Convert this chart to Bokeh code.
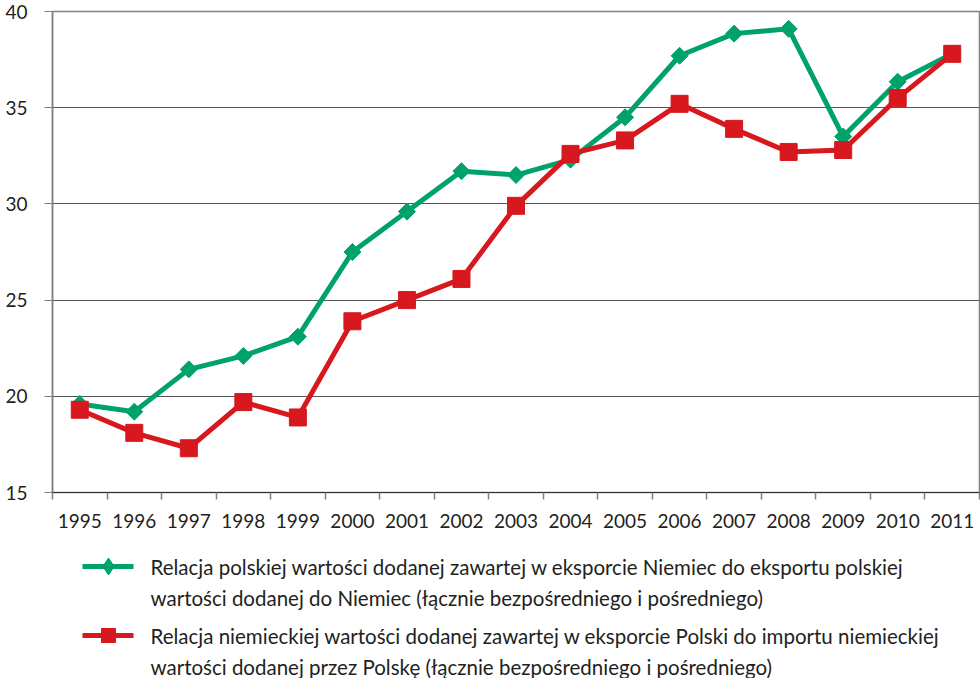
from bokeh.plotting import figure
from bokeh.models import Range1d, FixedTicker, BasicTickFormatter
from bokeh.layouts import column
from bokeh.embed import file_html
from bokeh.resources import INLINE
from bokeh.core.properties import value
import math

years = list(range(1995, 2012))
green_vals = [19.6, 19.2, 21.4, 22.1, 23.1, 27.5, 29.6, 31.7, 31.5, 32.3, 34.5, 37.7, 38.85, 39.1, 33.5, 36.35, 37.8]
red_vals = [19.3, 18.1, 17.3, 19.7, 18.9, 23.9, 25.0, 26.1, 29.9, 32.6, 33.3, 35.2, 33.9, 32.7, 32.8, 35.5, 37.8]
y_ticks = [15, 20, 25, 30, 35, 40]
legend_lines = [
    ["Relacja polskiej wartości dodanej zawartej w eksporcie Niemiec do eksportu polskiej",
     "wartości dodanej do Niemiec (łącznie bezpośredniego i pośredniego)"],
    ["Relacja niemieckiej wartości dodanej zawartej w eksporcie Polski do importu niemieckiej",
     "wartości dodanej przez Polskę (łącznie bezpośredniego i pośredniego)"],
]

GREEN = "#00a26b"
RED = "#d7181f"
TEXT = "#231f20"
FONT = "Lato"

MAIN_H = 537
LEG_H = 141

p = figure(width=980, height=MAIN_H, output_backend="svg", toolbar_location=None,
           x_range=Range1d(years[0] - 0.5, years[-1] + 0.5), y_range=Range1d(15, 40),
           min_border_left=52, min_border_right=1, min_border_top=11, min_border_bottom=45)
p.background_fill_color = "white"
p.border_fill_color = "white"
p.outline_line_color = "#808080"
p.outline_line_width = 1.5

p.xgrid.grid_line_color = None
p.ygrid.grid_line_color = "#555555"
p.ygrid.grid_line_width = 1.2
p.ygrid.ticker = FixedTicker(ticks=y_ticks)

p.yaxis.ticker = FixedTicker(ticks=y_ticks)
p.yaxis.axis_line_color = "#808080"
p.yaxis.axis_line_width = 1.5
p.yaxis.major_tick_line_color = "#808080"
p.yaxis.major_tick_in = 0
p.yaxis.major_tick_out = 8
p.yaxis.minor_tick_line_color = None
p.yaxis.major_label_standoff = 17
p.yaxis.major_label_text_font = FONT
p.yaxis.major_label_text_font_size = "19px"
p.yaxis.major_label_text_color = TEXT

p.xaxis.ticker = FixedTicker(ticks=years, minor_ticks=[y - 0.5 for y in years] + [years[-1] + 0.5])
p.xaxis.formatter = BasicTickFormatter(use_scientific=False)
p.xaxis.axis_line_color = "#333333"
p.xaxis.axis_line_width = 1.2
p.xaxis.major_tick_line_color = None
p.xaxis.major_tick_in = 0
p.xaxis.major_tick_out = 0
p.xaxis.minor_tick_line_color = "#808080"
p.xaxis.minor_tick_line_width = 1.5
p.xaxis.minor_tick_in = 0
p.xaxis.minor_tick_out = 7
p.xaxis.major_label_standoff = 14
p.xaxis.major_label_text_font = FONT
p.xaxis.major_label_text_font_size = "19px"
p.xaxis.major_label_text_color = TEXT

p.line(years, green_vals, line_color=GREEN, line_width=5)
p.scatter(years, green_vals, marker="square", size=12, angle=math.pi / 4,
          fill_color=GREEN, line_color=GREEN)
p.line(years, red_vals, line_color=RED, line_width=5)
p.scatter(years, red_vals, marker="square", size=17, fill_color=RED, line_color=RED)

# Legend panel: frame aligned with the main plot, data coordinates = page pixels
lg = figure(width=980, height=LEG_H, output_backend="svg", toolbar_location=None,
            x_range=Range1d(52, 979), y_range=Range1d(MAIN_H + LEG_H, MAIN_H),
            min_border_left=52, min_border_right=1, min_border_top=0, min_border_bottom=0)
lg.axis.visible = False
lg.grid.grid_line_color = None
lg.outline_line_color = None
lg.background_fill_color = "white"
lg.border_fill_color = "white"

rows_y = [566, 635]
colors = [GREEN, RED]
for i, (ry, col) in enumerate(zip(rows_y, colors)):
    lg.line([82, 133], [ry, ry], line_color=col, line_width=5)
    if i == 0:
        lg.scatter([108], [ry], marker="diamond", size=17, fill_color=col, line_color=col)
    else:
        lg.scatter([108], [ry], marker="square", size=14, fill_color=col, line_color=col)
    lg.text([150, 150], [ry, ry + 31], text=legend_lines[i], text_font=value(FONT),
            text_font_size="20.5px", text_color=TEXT, text_baseline="middle", text_align="left")

layout = column(p, lg, spacing=0)
open("out.html", "w").write(file_html(layout, INLINE))
